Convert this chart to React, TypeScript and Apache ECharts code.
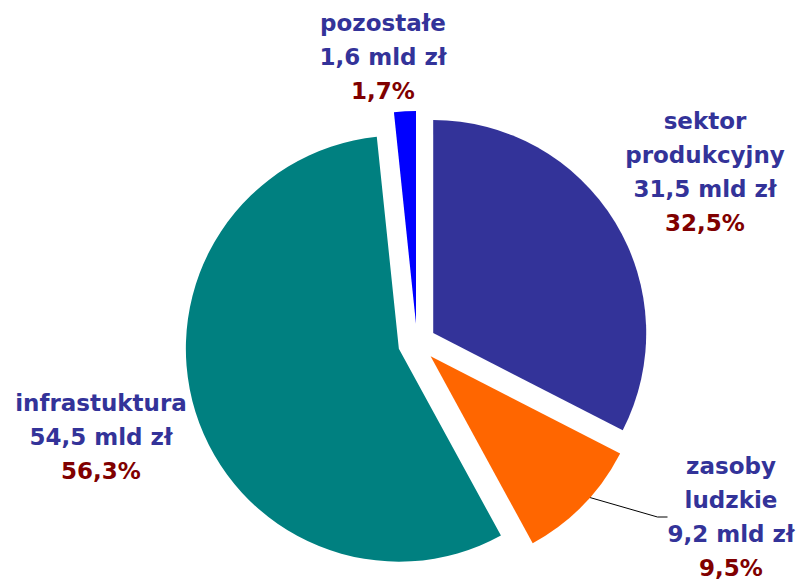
import React, { useEffect, useRef } from "react";
import * as echarts from "echarts";

const categories = ["sektor\nprodukcyjny", "zasoby\nludzkie", "infrastuktura", "pozostałe"];
const values = [31.5, 9.2, 54.5, 1.6];
const sliceColors = ["#333399", "#FF6600", "#008080", "#0000FF"];
const labelCenters: [number, number][] = [
  [705, 172],
  [731, 517],
  [101, 437],
  [383, 57],
];
const showLeader = [false, true, false, false];

export default function App() {
  const ref = useRef<HTMLDivElement>(null);
  useEffect(() => {
    document.body.style.margin = "0";
    const chart = echarts.init(ref.current!, null, { renderer: "svg" });
    const total = values.reduce((a, b) => a + b, 0);
    const fmt = (v: number, d: number) => v.toFixed(d).replace(".", ",");
    const textBase = { fontFamily: "DejaVu Sans", fontWeight: "bold", fontSize: 23, lineHeight: 34, align: "center" };
    const pieGeom = {
      type: "pie",
      center: [417, 343],
      radius: 213,
      startAngle: 90,
      clockwise: true,
    };
    chart.setOption({
      animation: false,
      backgroundColor: "#ffffff",
      series: [
        {
          ...pieGeom,
          name: "labels",
          silent: true,
          z: 1,
          emphasis: { disabled: true },
          label: {
            show: true,
            position: "outside",
            ...textBase,
            formatter: (p: any) => {
              const lines = String(p.name).split("\n").map((l) => `{a|${l}}`);
              lines.push(`{a|${fmt(p.value, 1)} mld zł}`);
              lines.push(`{b|${fmt((p.value / total) * 100, 1)}%}`);
              return lines.join("\n");
            },
            rich: {
              a: { ...textBase, color: "#333399" },
              b: { ...textBase, color: "#800000" },
            },
          },
          labelLayout: (params: any) => {
            const c = labelCenters[params.dataIndex];
            return { x: c[0], y: c[1], align: "center", verticalAlign: "middle" };
          },
          data: categories.map((name, i) => ({
            name,
            value: values[i],
            itemStyle: { color: "rgba(0,0,0,0)" },
            labelLine: {
              show: showLeader[i],
              length: 10,
              length2: 10,
              lineStyle: { color: "#000000", width: 1 },
            },
          })),
        },
        {
          ...pieGeom,
          name: "slices",
          z: 2,
          selectedMode: "multiple",
          selectedOffset: 19,
          emphasis: { disabled: true },
          label: { show: false },
          labelLine: { show: false },
          data: categories.map((name, i) => ({
            name,
            value: values[i],
            selected: true,
            itemStyle: { color: sliceColors[i] },
          })),
        },
      ],
    });
    return () => chart.dispose();
  }, []);
  return <div ref={ref} style={{ width: 798, height: 579 }} />;
}
